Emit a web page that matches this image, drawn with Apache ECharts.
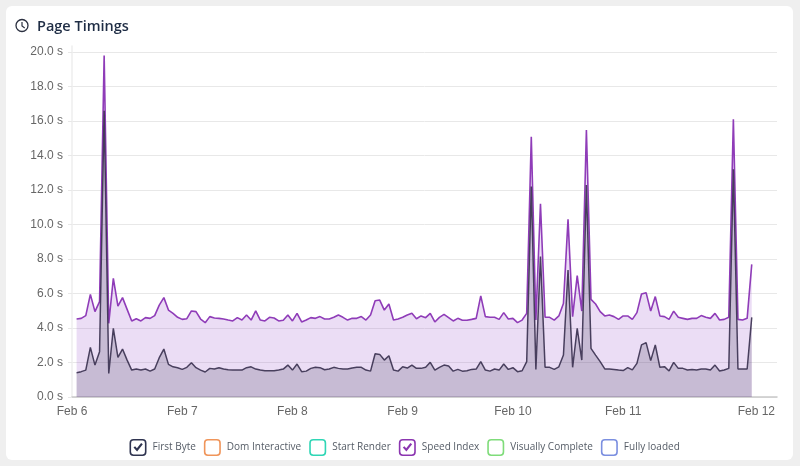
<!DOCTYPE html>
<html><head><meta charset="utf-8">
<style>
html,body{margin:0;padding:0;background:#efefef;width:800px;height:466px;overflow:hidden}
#card{position:absolute;left:6px;top:6px;width:787px;height:454px;background:#fff;border-radius:6px}
#c{position:absolute;left:0;top:0;width:800px;height:466px}
</style>
<script src="https://cdn.jsdelivr.net/npm/echarts@6/dist/echarts.min.js"></script>
</head><body><div id="card"></div><div id="c"></div>
<script>
const speedIndex=[4.52,4.56,4.72,5.95,4.95,5.53,19.8,4.27,6.88,5.27,5.76,5.08,4.41,4.54,4.41,4.6,4.56,4.72,5.33,5.76,5.04,4.85,4.62,4.5,4.54,4.99,4.95,4.52,4.31,4.66,4.58,4.56,4.52,4.46,4.41,4.6,4.46,4.75,4.46,4.99,4.46,4.41,4.62,4.58,4.41,4.45,4.75,4.41,4.85,4.35,4.46,4.6,4.56,4.66,4.52,4.52,4.62,4.75,4.62,4.46,4.56,4.56,4.66,4.46,4.75,5.58,5.62,5.04,5.39,4.46,4.52,4.62,4.75,4.85,4.54,4.7,4.6,4.85,4.35,4.62,4.79,4.6,4.41,4.56,4.45,4.45,4.5,4.56,5.86,4.66,4.62,4.62,4.5,4.89,4.52,4.56,4.31,4.46,4.85,15.09,4.46,11.2,4.62,4.62,4.46,4.7,5.42,10.3,4.66,7.04,4.98,15.48,5.66,5.39,4.95,4.7,4.75,4.66,4.5,4.7,4.7,4.5,4.89,5.97,6.05,4.98,5.82,4.7,4.66,4.5,4.98,4.62,4.56,4.5,4.56,4.56,4.72,4.62,4.56,4.85,4.46,4.5,4.62,16.1,4.5,4.46,4.56,7.69];
const firstByte=[1.41,1.47,1.56,2.88,1.85,2.63,16.6,1.37,3.98,2.3,2.78,2.14,1.56,1.62,1.56,1.62,1.5,1.62,2.28,2.78,1.89,1.75,1.7,1.6,1.72,1.99,1.7,1.56,1.45,1.66,1.62,1.7,1.62,1.58,1.56,1.56,1.56,1.7,1.75,1.62,1.56,1.52,1.52,1.52,1.56,1.62,1.85,1.56,1.91,1.47,1.5,1.66,1.72,1.7,1.58,1.62,1.72,1.66,1.62,1.62,1.68,1.72,1.72,1.56,1.5,2.51,2.47,2.14,2.39,1.56,1.5,1.75,1.68,1.85,1.66,1.66,1.72,2.01,1.56,1.72,1.85,1.8,1.5,1.6,1.5,1.52,1.6,1.62,2.05,1.56,1.5,1.62,1.56,1.91,1.6,1.7,1.47,1.52,2.05,12.2,1.6,8.14,1.72,1.72,1.6,1.75,2.43,7.36,1.72,3.98,2.14,12.29,2.82,2.43,2.05,1.63,1.63,1.6,1.56,1.53,1.7,1.57,1.95,3.02,3.15,2.11,3.02,1.72,1.76,1.51,2.01,1.66,1.66,1.57,1.6,1.57,1.62,1.62,1.57,1.85,1.51,1.57,1.66,13.2,1.62,1.62,1.62,4.62];
const dayLabels=['Feb 6','Feb 7','Feb 8','Feb 9','Feb 10','Feb 11','Feb 12'];
const dayIndex=[0,24,48,72,96,120,149];
const yTicks=[0,2,4,6,8,10,12,14,16,18,20];
const legendNames=['First Byte','Dom Interactive','Start Render','Speed Index','Visually Complete','Fully loaded'];
const legendColors=['#2f3450','#f0955a','#2fd6b5','#8b35b0','#7fdc7a','#7b8fe0'];
const legendChecked=[true,false,false,true,false,false];

const box='M4 0H13A4 4 0 0 1 17 4V13A4 4 0 0 1 13 17H4A4 4 0 0 1 0 13V4A4 4 0 0 1 4 0Z'+
  'M4 1.6A2.4 2.4 0 0 0 1.6 4V13A2.4 2.4 0 0 0 4 15.4H13A2.4 2.4 0 0 0 15.4 13V4A2.4 2.4 0 0 0 13 1.6Z';
const check='M4 8.6L5.6 7.2L7.4 9.2L11.6 3.9L13.3 5.2L7.6 12.6Z';
const pairs=a=>a.map((v,i)=>[i+1,v]);
const chart=echarts.init(document.getElementById('c'),null,{renderer:'canvas',width:800,height:466});
chart.setOption({
  animation:false,
  title:{text:'Page Timings',left:37,top:19,padding:0,textStyle:{fontFamily:'Open Sans',fontSize:14.5,fontWeight:600,color:'#1f2d45'}},
  graphic:[
    {type:'circle',shape:{cx:22,cy:25.5,r:6},style:{fill:'none',stroke:'#2b3040',lineWidth:1.3},silent:true},
    {type:'polyline',shape:{points:[[22,22],[22,26],[24.7,28]]},style:{fill:'none',stroke:'#2b3040',lineWidth:1.2},silent:true}
  ],
  grid:{left:72,top:46,width:705,height:351,containLabel:false},
  xAxis:{type:'value',min:0,max:153.5,
    axisLine:{show:true,onZero:false,lineStyle:{color:'#c9c9c9',width:1.5}},
    axisTick:{show:false},splitLine:{show:false},
    axisLabel:{customValues:dayIndex,formatter:v=>dayLabels[dayIndex.indexOf(v)],
      fontFamily:'Liberation Sans',fontSize:12,color:'#666',margin:9,hideOverlap:false}},
  yAxis:{type:'value',min:0,max:20.35,
    axisLine:{show:true,onZero:false,lineStyle:{color:'#eeeeee',width:1.5}},
    axisTick:{show:true,length:4,customValues:yTicks,lineStyle:{color:'#e8e8e8'}},
    splitLine:{show:true,lineStyle:{color:'#e8e8e8',width:1}},
    axisLabel:{customValues:yTicks,formatter:v=>v.toFixed(1)+' s',
      fontFamily:'Liberation Sans',fontSize:12,color:'#666',margin:9}},
  legend:{left:129.5,top:439,itemWidth:17,itemHeight:17,itemGap:8,selectedMode:false,padding:0,
    itemStyle:{borderWidth:0},
    textStyle:{fontFamily:'Open Sans',fontSize:10,color:'#555c66',padding:[2,0,0,1]},
    data:legendNames.map((n,i)=>({name:n,icon:'path://'+box+(legendChecked[i]?check:'')}))},
  series:legendNames.map((n,i)=>{
    const s={name:n,type:'line',data:[],symbol:'none',silent:true,
      itemStyle:{color:legendColors[i]},lineStyle:{color:legendColors[i]}};
    if(n==='Speed Index'){
      s.data=pairs(speedIndex);s.z=2;
      s.lineStyle={color:'#8f3cb8',width:1.6};
      s.areaStyle={color:'#9040c8',opacity:0.18};
    }
    if(n==='First Byte'){
      s.data=pairs(firstByte);s.z=3;
      s.lineStyle={color:'#38304f',width:1.5,opacity:0.9};
      s.areaStyle={color:'#38304f',opacity:0.2};
    }
    return s;
  })
});
</script></body></html>
